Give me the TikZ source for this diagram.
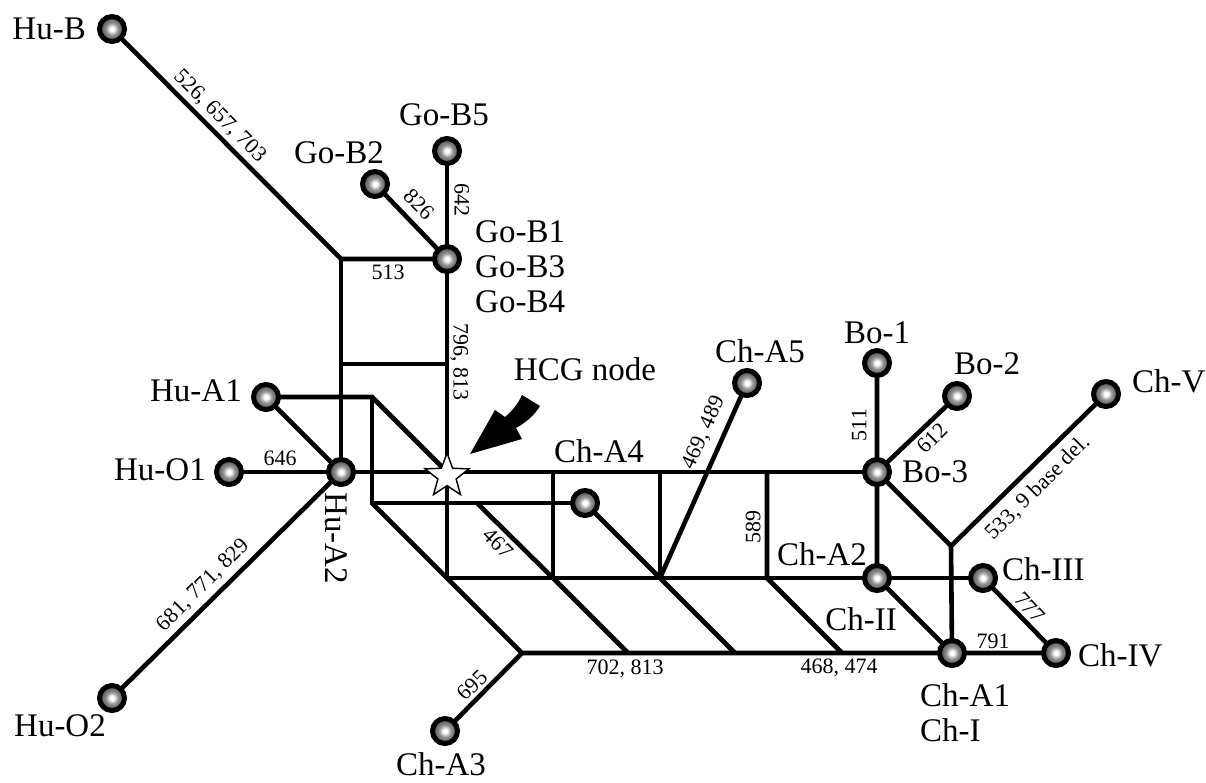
\documentclass[tikz,border=0pt]{standalone}
\usepackage{fontspec}
\setmainfont{Liberation Serif}
\usetikzlibrary{shapes.geometric}
\pgfdeclarelayer{bg}
\pgfsetlayers{bg,main}
\pgfdeclareradialshading{hapshade}{\pgfpoint{0bp}{0bp}}{color(0bp)=(white); color(4bp)=(white); color(12bp)=(gray!85); color(22bp)=(black!65); color(32bp)=(black!82); color(50bp)=(black)}
\pgfdeclareradialshading{starshade}{\pgfpoint{0bp}{0bp}}{color(0bp)=(white); color(16bp)=(white); color(50bp)=(gray!80)}
\begin{document}
\begin{tikzpicture}[x=1pt,y=-1pt,
  hap/.style={circle, draw=black, line width=5pt, minimum size=25pt, inner sep=0pt, shading=hapshade},
  edge/.style={line width=4.6pt, line join=miter},
  lbl/.style={font=\fontsize{33}{38}\selectfont, inner sep=0pt, text height=21.8pt, text depth=0pt},
  num/.style={font=\fontsize{22}{26}\selectfont, inner sep=0pt, text height=14.9pt, text depth=0pt}]
\useasboundingbox (0,0) rectangle (1206,782);

% haplotype nodes
\node[hap] (HuB)  at (112,29) {};
\node[hap] (GoB5) at (447,151) {};
\node[hap] (GoB2) at (375,184) {};
\node[hap] (GoB1) at (447,259) {};
\node[hap] (HuA1) at (266,397) {};
\node[hap] (HuO1) at (229,472) {};
\node[hap] (HuA2) at (341,472) {};
\node[hap] (HuO2) at (112,698) {};
\node[hap] (ChA4) at (585,503) {};
\node[hap] (ChA5) at (747,383) {};
\node[hap] (Bo1)  at (877,363) {};
\node[hap] (Bo2)  at (957,396) {};
\node[hap] (Bo3)  at (877,472) {};
\node[hap] (ChV)  at (1106,394) {};
\node[hap] (ChA2) at (877,578) {};
\node[hap] (ChIII) at (983,578) {};
\node[hap] (ChA1) at (952,653) {};
\node[hap] (ChIV) at (1056,653) {};
\node[hap] (ChA3) at (445,731) {};
\node[star, star points=5, star point ratio=2.4, minimum size=46pt, inner sep=0pt, draw=black, line width=1.4pt, shading=starshade] (HCGstar) at (447,476) {};

% junctions
\coordinate (HCG) at (447,472);
\coordinate (jA) at (341,259);
\coordinate (jBl) at (341,364);
\coordinate (jBr) at (447,364);
\coordinate (c1) at (372,397);
\coordinate (c2) at (372,503);
\coordinate (v1) at (447,578);
\coordinate (j695) at (522,653);
\coordinate (d1a) at (477,503);
\coordinate (d1b) at (553,578);
\coordinate (d1c) at (628,653);
\coordinate (d2b) at (660,578);
\coordinate (d2c) at (735,653);
\coordinate (t1) at (553,472);
\coordinate (t2) at (660,472);
\coordinate (t3) at (767,472);
\coordinate (d3b) at (767,578);
\coordinate (d3c) at (842,653);
\coordinate (jV) at (951,546);

\begin{pgfonlayer}{bg}
\draw[edge] (HuB.center) -- (jA) -- (GoB1.center);
\draw[edge] (jA) -- (jBl) -- (HuA2.center);
\draw[edge] (jBl) -- (jBr);
\draw[edge] (GoB5.center) -- (GoB1.center) -- (jBr) -- (HCG) -- (v1);
\draw[edge] (GoB2.center) -- (GoB1.center);
\draw[edge] (HuA1.center) -- (c1) -- (HCG);
\draw[edge] (c1) -- (c2) -- (ChA4.center);
\draw[edge] (HuA1.center) -- (HuA2.center);
\draw[edge] (HuA2.center) -- (HuO2.center);
\draw[edge] (HuO1.center) -- (HuA2.center) -- (HCG) -- (t1) -- (t2) -- (t3) -- (Bo3.center);
\draw[edge] (c2) -- (v1) -- (j695) -- (d1c) -- (d2c) -- (d3c) -- (ChA1.center) -- (ChIV.center);
\draw[edge] (j695) -- (ChA3.center);
\draw[edge] (v1) -- (d1b) -- (d2b) -- (d3b) -- (ChA2.center) -- (ChIII.center);
\draw[edge] (d1a) -- (d1b) -- (d1c);
\draw[edge] (ChA4.center) -- (d2b) -- (d2c);
\draw[edge] (t1) -- (d1b);
\draw[edge] (t2) -- (d2b);
\draw[edge] (d2b) -- (ChA5.center);
\draw[edge] (t3) -- (d3b) -- (d3c);
\draw[edge] (Bo1.center) -- (Bo3.center) -- (ChA2.center) -- (ChA1.center);
\draw[edge] (Bo3.center) -- (Bo2.center);
\draw[edge] (Bo3.center) -- (jV) -- (ChA1.center);
\draw[edge] (jV) -- (ChV.center);
\draw[edge] (ChIII.center) -- (ChIV.center);
\end{pgfonlayer}

% HCG arrow
\fill[black] (522,395) -- (540,406) .. controls (534,416) and (525,423) .. (516,428)
  -- (522,439) -- (470,454) -- (495,410) -- (505,417)
  .. controls (512,411) and (518,404) .. (522,395) -- cycle;

% labels
\node[lbl, anchor=east] (lHuB) at (86,29) {Hu-B};
\node[lbl] (lGoB5) at (444,115) {Go-B5};
\node[lbl] (lGoB2) at (339,153) {Go-B2};
\node[lbl, anchor=west] (lGoB1) at (475,232) {Go-B1};
\node[lbl, anchor=west] (lGoB3) at (475,267) {Go-B3};
\node[lbl, anchor=west] (lGoB4) at (475,302) {Go-B4};
\node[lbl, anchor=east] (lHuA1) at (242,391) {Hu-A1};
\node[lbl, anchor=east] (lHuO1) at (206,470) {Hu-O1};
\node[lbl, rotate=-90] (lHuA2) at (336,538) {Hu-A2};
\node[lbl] (lHuO2) at (60,726) {Hu-O2};
\node[lbl] (lHCG) at (585,370) {HCG node};
\node[lbl] (lChA4) at (599,452) {Ch-A4};
\node[lbl] (lChA5) at (760,352) {Ch-A5};
\node[lbl] (lBo1) at (877,333) {Bo-1};
\node[lbl] (lBo2) at (987,364) {Bo-2};
\node[lbl, anchor=west] (lBo3) at (902,472) {Bo-3};
\node[lbl, anchor=west] (lChV) at (1132,382) {Ch-V};
\node[lbl] (lChA2) at (822,555) {Ch-A2};
\node[lbl, anchor=west] (lChIII) at (1002,570) {Ch-III};
\node[lbl, anchor=west] (lChIV) at (1078,656) {Ch-IV};
\node[lbl] (lChII) at (861,620) {Ch-II};
\node[lbl, anchor=west] (lChA1) at (920,696) {Ch-A1};
\node[lbl, anchor=west] (lChI) at (920,731) {Ch-I};
\node[lbl] (lChA3) at (441,765) {Ch-A3};

% mutation numbers
\node[num, rotate=-45] (m1) at (221,115) {526, 657, 703};
\node[num, rotate=-45] (m2) at (419,204) {826};
\node[num, rotate=-90] (m3) at (462,200) {642};
\node[num] (m4) at (388,272) {513};
\node[num, rotate=-90] (m5) at (461,362) {796, 813};
\node[num] (m6) at (280,458) {646};
\node[num, rotate=45] (m7) at (202,584) {681, 771, 829};
\node[num, rotate=45] (m8) at (472,685) {695};
\node[num, rotate=-45] (m9) at (498,543) {467};
\node[num] (m10) at (625,667) {702, 813};
\node[num] (m11) at (839,666) {468, 474};
\node[num, rotate=66] (m12) at (702,432) {469, 489};
\node[num, rotate=90] (m13) at (753,527) {589};
\node[num, rotate=90] (m14) at (859,425) {511};
\node[num, rotate=45] (m15) at (932,438) {612};
\node[num, rotate=45] (m16) at (1037,487) {533, 9 base del.};
\node[num, rotate=-47] (m17) at (1030,607) {777};
\node[num] (m18) at (993,641) {791};
\end{tikzpicture}
\end{document}
